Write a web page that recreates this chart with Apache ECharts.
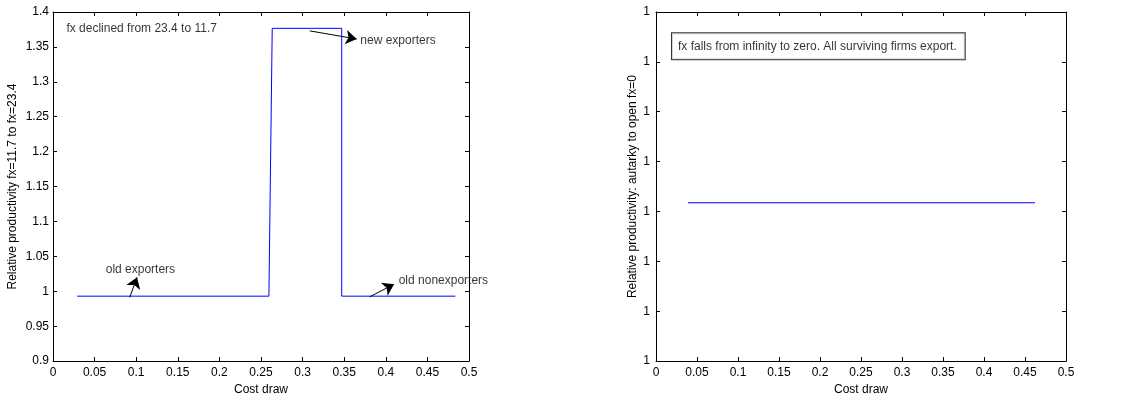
<!DOCTYPE html>
<html><head><meta charset="utf-8">
<script src="https://cdn.jsdelivr.net/npm/echarts@6/dist/echarts.min.js"></script>
<style>html,body{margin:0;padding:0;background:#fff}#c{width:1129px;height:401px}</style>
</head><body><div id="c"></div>
<script>
// Left panel: step line of relative productivity vs cost draw
const costLeft = [0.029, 0.2595, 0.2635, 0.347, 0.347, 0.4836];
const prodLeft = [0.993, 0.993, 1.3766, 1.3766, 0.993, 0.993];
// Right panel: flat line (axis ticks all read "1")
const costRight = [0.039, 0.4622];
const prodRight = [3.175, 3.175];

const xTickLabels = ['0','0.05','0.1','0.15','0.2','0.25','0.3','0.35','0.4','0.45','0.5'];
const yTickLabelsLeft = ['0.9','0.95','1','1.05','1.1','1.15','1.2','1.25','1.3','1.35','1.4'];
const yTickLabelsRight = ['1','1','1','1','1','1','1','1'];

// Left panel annotations
const noteTexts = ['fx declined from 23.4 to 11.7', 'new exporters', 'old exporters', 'old nonexporters'];
const noteX = [0.0161, 0.3694, 0.0634, 0.4155];
const noteY = [1.3762, 1.359, 1.0305, 1.0158];
const arrowFromX = [0.3085, 0.0922, 0.3806];
const arrowFromY = [1.373, 0.9912, 0.992];
const arrowToX = [0.365, 0.101, 0.4099];
const arrowToY = [1.3613, 1.0201, 1.0101];

// Right panel note
const boxText = 'fx falls from infinity to zero. All surviving firms export.';
const boxX = 0.0195, boxY = 6.313;

const FONT = 'Liberation Sans';
const txt = {fontFamily: FONT, fontSize: 12, color: '#000'};
const tick = {show: true, inside: true, length: 4, lineStyle: {color: '#000', width: 1}};

function xAx(grid, pos, show) {
  return {
    type: 'value', gridIndex: grid, position: pos, min: 0, max: 0.5, interval: 0.05,
    axisLine: {show: true, onZero: false, lineStyle: {color: '#000', width: 1}},
    axisTick: tick,
    axisLabel: {show: show, margin: 6, ...txt, formatter: (v, i) => xTickLabels[i]},
    splitLine: {show: false},
    name: show ? 'Cost draw' : '', nameLocation: 'middle', nameGap: 21,
    nameTextStyle: txt
  };
}
function yAxLeft(grid, pos, show) {
  return {
    type: 'value', gridIndex: grid, position: pos, min: 0.9, max: 1.4, interval: 0.05,
    axisLine: {show: true, onZero: false, lineStyle: {color: '#000', width: 1}},
    axisTick: tick,
    axisLabel: {show: show, margin: 4, ...txt, formatter: (v, i) => yTickLabelsLeft[i]},
    splitLine: {show: false},
    name: show ? 'Relative productivity fx=11.7 to fx=23.4' : '', nameLocation: 'middle', nameGap: 34,
    nameTextStyle: txt
  };
}
function yAxRight(grid, pos, show) {
  return {
    type: 'value', gridIndex: grid, position: pos, min: 0, max: 7, interval: 1,
    axisLine: {show: true, onZero: false, lineStyle: {color: '#000', width: 1}},
    axisTick: tick,
    axisLabel: {show: show, margin: 6, ...txt, formatter: (v, i) => yTickLabelsRight[i]},
    splitLine: {show: false},
    name: show ? 'Relative productivity: autarky to open fx=0' : '', nameLocation: 'middle', nameGap: 17,
    nameTextStyle: txt
  };
}

const arrows = arrowFromX.map((x, i) => [
  {coord: [x, arrowFromY[i]]},
  {coord: [arrowToX[i], arrowToY[i]]}
]);

const chart = echarts.init(document.getElementById('c'), null, {renderer: 'canvas'});
chart.setOption({
  animation: false,
  backgroundColor: '#fff',
  grid: [
    {left: 53, top: 12, width: 416, height: 351},
    {left: 656, top: 12, width: 410, height: 351}
  ],
  xAxis: [xAx(0, 'bottom', true), xAx(0, 'top', false), xAx(1, 'bottom', true), xAx(1, 'top', false)],
  yAxis: [yAxLeft(0, 'left', true), yAxLeft(0, 'right', false), yAxRight(1, 'left', true), yAxRight(1, 'right', false)],
  series: [
    {
      type: 'line', xAxisIndex: 0, yAxisIndex: 0, showSymbol: false, symbol: 'none',
      data: costLeft.map((x, i) => [x, prodLeft[i]]),
      lineStyle: {color: '#0000ff', width: 1}, silent: true,
      markLine: {
        silent: true, symbol: ['none', 'arrow'], symbolSize: 11,
        label: {show: false},
        lineStyle: {color: '#000', width: 1, type: 'solid'},
        itemStyle: {color: '#000'},
        emphasis: {disabled: true},
        data: arrows
      }
    },
    {
      type: 'scatter', xAxisIndex: 0, yAxisIndex: 0, symbolSize: 0, silent: true,
      data: noteX.map((x, i) => [x, noteY[i], noteTexts[i]]),
      label: {show: true, position: 'right', distance: 0, ...txt, formatter: p => p.data[2]}
    },
    {
      type: 'line', xAxisIndex: 2, yAxisIndex: 2, showSymbol: false, symbol: 'none',
      data: costRight.map((x, i) => [x, prodRight[i]]),
      lineStyle: {color: '#0000ff', width: 1}, silent: true
    },
    {
      type: 'scatter', xAxisIndex: 2, yAxisIndex: 2, symbolSize: 0, silent: true,
      data: [[boxX, boxY, boxText]],
      label: {show: true, position: 'right', distance: 0, ...txt,
        formatter: p => p.data[2], borderColor: '#000', borderWidth: 1,
        padding: [7, 8, 7, 6], backgroundColor: '#fff'}
    }
  ]
});
</script></body></html>
